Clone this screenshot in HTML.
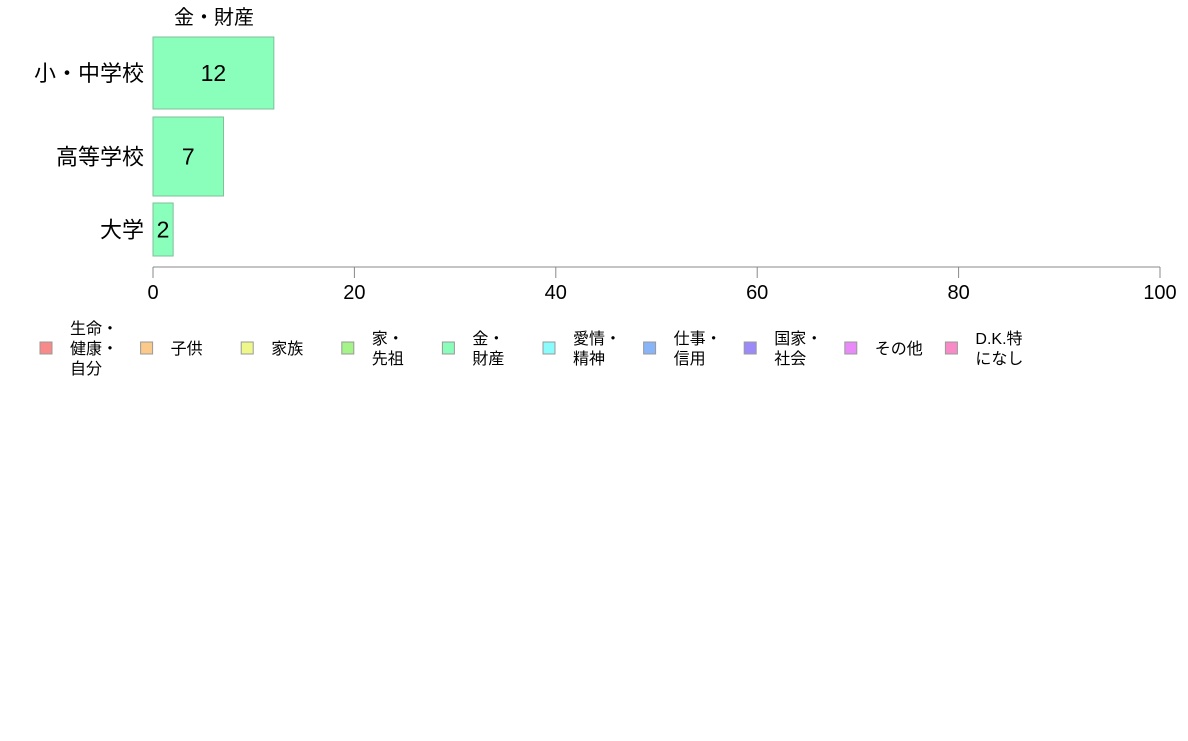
<!DOCTYPE html>
<html><head><meta charset="utf-8"><style>
body{margin:0;background:#fff;font-family:"Liberation Sans","Noto Sans CJK JP",sans-serif;}
svg text{font-family:"Liberation Sans","Noto Sans CJK JP",sans-serif;}
</style></head><body>
<svg id="c" width="1188" height="736" xmlns="http://www.w3.org/2000/svg">
<text x="214" y="24" font-size="20" text-anchor="middle" fill="#000">金・財産</text>
<g id="bars"></g>
<g id="axis"></g>
<g id="legend"></g>
</svg>
<script>
const categories = ["小・中学校","高等学校","大学"];
const values = [12, 7, 2];
const ticks = [0,20,40,60,80,100];
const legendLabels = [["生命・","健康・","自分"],["子供"],["家族"],["家・","先祖"],["金・","財産"],["愛情・","精神"],["仕事・","信用"],["国家・","社会"],["その他"],["D.K.特","になし"]];
const legendColors = ["#f88a8a","#fbc98a","#eef88a","#a4f48a","#8afdbb","#8afcfc","#8ab4f8","#9c8af8","#e88af8","#f88ac8"];
const NS="http://www.w3.org/2000/svg";
const x0=153, x1=1160;
function xs(v){return x0+(v/100)*(x1-x0);}
const bands=[[37,109],[117,196],[203,256]];
const bg=document.getElementById('bars');
categories.forEach((c,i)=>{
  const [t,b]=bands[i];
  const r=document.createElementNS(NS,'rect');
  r.setAttribute('x',xs(0));r.setAttribute('y',t);r.setAttribute('width',xs(values[i])-xs(0));r.setAttribute('height',b-t);
  r.setAttribute('fill','#8affbb');r.setAttribute('stroke','#7fbf99');
  
  
  bg.appendChild(r);
  const lt=document.createElementNS(NS,'text');
  lt.setAttribute('x',(xs(0)+xs(values[i]))/2);lt.setAttribute('y',(t+b)/2+8);lt.setAttribute('font-size','23');lt.setAttribute('text-anchor','middle');
  lt.textContent=values[i];
  
  
  bg.appendChild(lt);
  const ct=document.createElementNS(NS,'text');
  ct.setAttribute('x',144);ct.setAttribute('y',(t+b)/2+8);ct.setAttribute('font-size','22');ct.setAttribute('text-anchor','end');
  ct.textContent=c;
  
  
  bg.appendChild(ct);
});
const ax=document.getElementById('axis');
const ln=document.createElementNS(NS,'line');
ln.setAttribute('x1',x0);ln.setAttribute('x2',x1);ln.setAttribute('y1',267);ln.setAttribute('y2',267);ln.setAttribute('stroke','#888');


ax.appendChild(ln);
ticks.forEach(v=>{
  const tk=document.createElementNS(NS,'line');
  tk.setAttribute('x1',xs(v));tk.setAttribute('x2',xs(v));tk.setAttribute('y1',267);tk.setAttribute('y2',278);tk.setAttribute('stroke','#888');
  
  
  ax.appendChild(tk);
  const tl=document.createElementNS(NS,'text');
  tl.setAttribute('x',xs(v));tl.setAttribute('y',299);tl.setAttribute('font-size','20');tl.setAttribute('text-anchor','middle');
  tl.textContent=v;
  
  
  ax.appendChild(tl);
});
const lg=document.getElementById('legend');
legendLabels.forEach((lab,i)=>{
  const sx=40+i*100.6;
  const g=document.createElementNS(NS,'g');
  
  
  const r=document.createElementNS(NS,'rect');
  r.setAttribute('x',sx);r.setAttribute('y',342);r.setAttribute('width',12);r.setAttribute('height',12);
  r.setAttribute('fill',legendColors[i]);r.setAttribute('stroke','#999');
  
  
  g.appendChild(r);
  const n=lab.length;
  lab.forEach((s,j)=>{
    const t=document.createElementNS(NS,'text');
    t.setAttribute('x',sx+30);t.setAttribute('y',348+(j-(n-1)/2)*20+6);t.setAttribute('font-size','16');
    t.textContent=s;
    
    
    g.appendChild(t);
  });
  lg.appendChild(g);
});
</script>
</body></html>
